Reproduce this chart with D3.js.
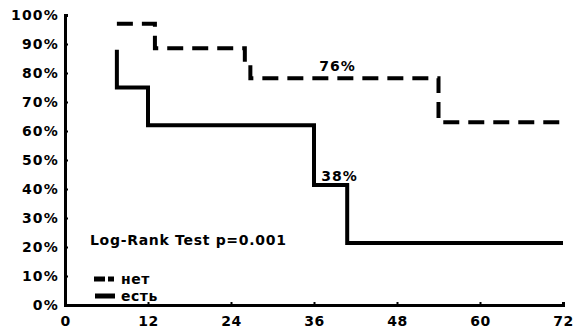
<!DOCTYPE html>
<html>
<head>
<meta charset="utf-8">
<script src="https://cdn.jsdelivr.net/npm/d3@7"></script>
<style>
  html, body { margin: 0; padding: 0; background: #fff; }
  svg text { font-family: "DejaVu Sans", Verdana, sans-serif; font-weight: bold; fill: #000; }
</style>
</head>
<body>
<svg id="chart" width="573" height="329"></svg>
<script>
// Kaplan–Meier survival steps (months, % surviving)
const noTimes   = [7.5, 13, 26, 26.8, 54, 72];
const noSurv    = [97, 88.5, 83.4, 78.2, 63, 63];
const yesTimes  = [7.5, 7.5, 12, 36, 40.8, 72];
const yesSurv   = [88, 75, 62, 41.4, 21.4, 21.4];

const xTicks = [0, 12, 24, 36, 48, 60, 72];
const yTicks = [0, 10, 20, 30, 40, 50, 60, 70, 80, 90, 100];
const legendLabels = ["нет", "есть"];
const pointLabels = [
  { t: 39.4, v: 80.8, text: "76%" },
  { t: 39.7, v: 42.6, text: "38%" }
];
const testLabel = "Log-Rank Test p=0.001";

const svg = d3.select("#chart");
const x = d3.scaleLinear().domain([0, 72]).range([65, 563]);
const y = d3.scaleLinear().domain([0, 100]).range([305, 15]);

// axes
const xAxis = d3.axisBottom(x).tickValues(xTicks).tickSize(-3).tickPadding(8).tickFormat(d3.format("d"));
const yAxis = d3.axisLeft(y).tickValues(yTicks).tickSize(-3).tickPadding(6).tickFormat(d => d + "%");

const gx = svg.append("g").attr("transform", `translate(0,${y(0)})`).call(xAxis);
const gy = svg.append("g").attr("transform", `translate(${x(0)},0)`).call(yAxis);
[gx, gy].forEach(g => {
  g.select(".domain").attr("stroke", "#000").attr("stroke-width", 3);
  g.selectAll(".tick line").attr("stroke", "#000").attr("stroke-width", 2);
  g.selectAll(".tick text").attr("font-size", 14).attr("font-family", "DejaVu Sans").attr("font-weight", "bold").attr("fill", "#000");
});
gy.selectAll(".tick text").attr("dy", "0.35em").attr("letter-spacing", "1.2px");
gx.selectAll(".tick text").attr("dy", "0.9em").attr("letter-spacing", "0.5px");

// survival curves
const line = d3.line().curve(d3.curveStepAfter).x(d => x(d[0])).y(d => y(d[1]));
const noData = noTimes.map((t, i) => [t, noSurv[i]]);
const yesData = yesTimes.map((t, i) => [t, yesSurv[i]]);

svg.append("path").datum(yesData).attr("d", line)
  .attr("fill", "none").attr("stroke", "#000").attr("stroke-width", 4);
svg.append("path").datum(noData).attr("d", line)
  .attr("fill", "none").attr("stroke", "#000").attr("stroke-width", 4)
  .attr("stroke-dasharray", "16 9");

// value annotations
svg.selectAll("text.pl").data(pointLabels).join("text").attr("class", "pl")
  .attr("x", d => x(d.t)).attr("y", d => y(d.v))
  .attr("text-anchor", "middle").attr("font-size", 14).attr("letter-spacing", "1px").text(d => d.text);

// test statistic
svg.append("text").attr("x", 90).attr("y", 245).attr("font-size", 14)
  .attr("letter-spacing", "0.7px").text(testLabel);

// legend
const lg = svg.append("g");
lg.append("line").attr("x1", 94).attr("x2", 114).attr("y1", 279).attr("y2", 279)
  .attr("stroke", "#000").attr("stroke-width", 5).attr("stroke-dasharray", "11 3 6 0");
lg.append("line").attr("x1", 95).attr("x2", 115).attr("y1", 296).attr("y2", 296)
  .attr("stroke", "#000").attr("stroke-width", 5);
lg.selectAll("text").data(legendLabels).join("text")
  .attr("x", 121).attr("y", (d, i) => 279 + i * 17).attr("dy", "0.35em")
  .attr("font-size", 14).attr("letter-spacing", "0.5px").text(d => d);
</script>
</body>
</html>
